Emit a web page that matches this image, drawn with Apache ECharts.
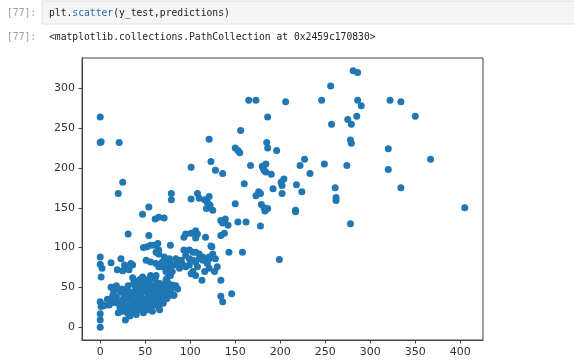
<!DOCTYPE html>
<html>
<head>
<meta charset="utf-8">
<script src="https://cdn.jsdelivr.net/npm/echarts@6/dist/echarts.min.js"></script>
<style>
  html, body { margin: 0; padding: 0; background: #fff; }
  #chart { width: 574px; height: 360px; }
</style>
</head>
<body>
<div id="chart"></div>
<script>
// notebook cell text
const promptIn = '[77]:'
const codeFn = 'plt.'
const codeCall = 'scatter'
const codeArgs = '(y_test,predictions)'
const outText = '<matplotlib.collections.PathCollection at 0x2459c170830>'

// axis ticks
const xTicks = [0, 50, 100, 150, 200, 250, 300, 350, 400]
const yTicks = [0, 50, 100, 150, 200, 250, 300]

// y_test (x) and predictions (y)
const yTest = [
  0, 0, 1, 21, 25, 20, 54, 79, 79, 101, 121, 123, 128, 136, 101, 108, 110, 116, 121, 119,
  122, 125, 118, 150, 150, 153, 155, 156, 165, 173, 167, 160, 176, 173, 180, 182, 186, 185, 186, 179,
  182, 186, 183, 184, 181, 184, 190, 204, 201, 202, 192, 202, 178, 47, 61, 65, 71, 134, 139, 136,
  142, 153, 162, 178, 31, 54, 93, 95, 101, 106, 108, 106, 117, 134, 138, 123, 48, 52, 56, 60,
  64, 62, 65, 65, 78, 93, 99, 103, 95, 106, 110, 114, 124, 125, 143, 158, 0, 0, 2, 1,
  12, 23, 19, 28, 36, 32, 27, 34, 25, 51, 56, 62, 69, 73, 77, 71, 65, 80, 77, 73,
  62, 71, 77, 84, 86, 80, 77, 69, 73, 78, 74, 90, 84, 99, 103, 106, 108, 99, 95, 103,
  106, 119, 121, 128, 121, 110, 114, 88, 92, 101, 116, 121, 127, 130, 113, 134, 84, 81, 0, 3,
  1, 4, 0, 0, 0, 12, 15, 15, 21, 28, 134, 136, 146, 199, 217, 262, 405, 278, 12, 15,
  18, 20, 22, 24, 25, 27, 28, 30, 30, 32, 33, 35, 35, 37, 38, 40, 40, 42, 42, 44,
  45, 45, 47, 48, 49, 50, 50, 52, 53, 54, 55, 56, 57, 58, 59, 60, 61, 62, 63, 64,
  65, 66, 67, 68, 70, 71, 72, 74, 75, 76, 78, 80, 82, 86, 8, 10, 18, 24, 36, 47,
  56, 20, 30, 40, 48, 58, 66, 281, 286, 256, 206, 246, 286, 290, 322, 334, 350, 285, 275, 279,
  257, 196, 278, 279, 320, 227, 222, 249, 274, 367, 320, 233, 218, 224, 261, 262, 334, 217,
  14, 17, 23, 26, 29, 31, 34, 36, 39, 41, 43, 46, 46, 51, 51, 53, 55, 57, 59, 61,
  63, 66, 69, 71, 73, 77, 79, 44, 50, 39, 27, 33
]
const predictions = [
  264, 232, 233, 232, 182, 168, 151, 168, 160, 201, 236, 208, 197, 193, 161, 168, 162, 160, 164, 157,
  153, 147, 149, 155, 225, 222, 219, 247, 285, 285, 203, 180, 170, 165, 202, 197, 264, 232, 225, 154,
  150, 149, 146, 205, 200, 195, 192, 186, 182, 178, 174, 168, 168, 142, 136, 138, 137, 134, 136, 131,
  128, 132, 132, 127, 117, 115, 113, 117, 118, 121, 117, 112, 113, 115, 118, 102, 100, 101, 103, 103,
  105, 94, 97, 92, 103, 97, 97, 94, 90, 94, 92, 88, 101, 92, 94, 94, 88, 79, 74, 63,
  81, 86, 72, 74, 78, 72, 78, 80, 71, 84, 82, 80, 82, 86, 82, 78, 76, 70, 65, 59,
  65, 88, 86, 86, 82, 78, 74, 76, 70, 65, 61, 84, 78, 86, 84, 82, 76, 78, 76, 70,
  65, 80, 86, 86, 88, 86, 84, 74, 78, 67, 70, 74, 70, 76, 59, 59, 52, 40, 32, 28,
  26, 27, 17, 9, 0, 35, 31, 50, 47, 9, 39, 32, 42, 85, 145, 159, 150, 130, 50, 45,
  38, 30, 25, 20, 35, 42, 28, 22, 48, 35, 27, 40, 20, 55, 30, 45, 25, 35, 58, 50,
  22, 40, 30, 55, 45, 35, 25, 48, 40, 58, 30, 22, 45, 52, 36, 28, 60, 44, 50, 33,
  25, 55, 40, 47, 30, 52, 42, 36, 56, 48, 44, 53, 40, 48, 35, 28, 52, 48, 62, 63,
  65, 18, 18, 16, 18, 20, 22, 322, 320, 303, 283, 285, 285, 278, 285, 283, 265, 265, 261, 255,
  255, 222, 235, 231, 224, 211, 203, 205, 203, 211, 198, 193, 179, 170, 175, 163, 175, 147,
  40, 33, 44, 30, 38, 52, 44, 33, 50, 40, 28, 35, 47, 30, 53, 22, 42, 35, 48, 40,
  55, 36, 45, 35, 50, 40, 48, 60, 60, 22, 22, 14
]

const points = yTest.map((v, i) => [v, predictions[i]])

const chart = echarts.init(document.getElementById('chart'))
const axisColor = '#444'
const option = {
  animation: false,
  backgroundColor: '#fff',
  grid: {
    left: 82,
    right: 91,
    top: 58,
    bottom: 20,
    show: true,
    borderColor: axisColor,
    borderWidth: 1
  },
  xAxis: {
    type: 'value',
    min: -20.25,
    max: 425.25,
    splitLine: { show: false },
    axisLine: { show: true, onZero: false, lineStyle: { color: axisColor } },
    axisTick: { show: true, length: 3.5, customValues: xTicks, lineStyle: { color: axisColor } },
    axisLabel: {
      customValues: xTicks,
      color: '#333',
      fontFamily: 'DejaVu Sans',
      fontSize: 11,
      margin: 7
    }
  },
  yAxis: {
    type: 'value',
    min: -16.1,
    max: 338.1,
    splitLine: { show: false },
    axisLine: { show: true, onZero: false, lineStyle: { color: axisColor } },
    axisTick: { show: true, length: 3.5, customValues: yTicks, lineStyle: { color: axisColor } },
    axisLabel: {
      customValues: yTicks,
      color: '#333',
      fontFamily: 'DejaVu Sans',
      fontSize: 11,
      margin: 7
    }
  },
  graphic: [
    {
      type: 'rect',
      shape: { x: 42, y: 1, width: 540, height: 23 },
      style: { fill: '#f5f5f5', stroke: '#e0e0e0', lineWidth: 1 }
    },
    {
      type: 'text',
      left: 7,
      top: 8,
      style: { text: promptIn, fill: '#9e9e9e', font: '9.7px "DejaVu Sans Mono"' }
    },
    {
      type: 'text',
      left: 49,
      top: 8,
      style: {
        text: '{a|' + codeFn + '}{b|' + codeCall + '}{a|' + codeArgs + '}',
        rich: {
          a: { fill: '#222', font: '9.7px "DejaVu Sans Mono"' },
          b: { fill: '#2a6cb5', font: '9.7px "DejaVu Sans Mono"' }
        }
      }
    },
    {
      type: 'text',
      left: 7,
      top: 32,
      style: { text: promptIn, fill: '#9e9e9e', font: '9.7px "DejaVu Sans Mono"' }
    },
    {
      type: 'text',
      left: 49,
      top: 32,
      style: { text: outText, fill: '#222', font: '9.7px "DejaVu Sans Mono"' }
    }
  ],
  series: [
    {
      type: 'scatter',
      data: points,
      symbolSize: 7,
      itemStyle: { color: '#1f77b4', opacity: 1 }
    }
  ]
}
chart.setOption(option)
</script>
</body>
</html>
